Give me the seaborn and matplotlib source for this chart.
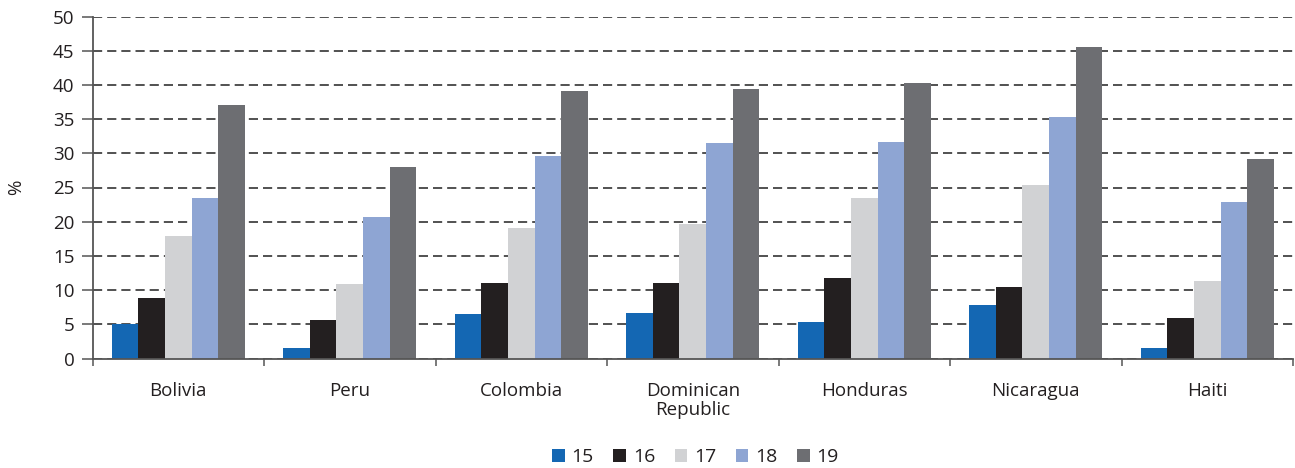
import numpy as np
import pandas as pd
import matplotlib
matplotlib.use("Agg")
import matplotlib.pyplot as plt
import seaborn as sns
from matplotlib.ticker import FixedLocator

countries = ["Bolivia", "Peru", "Colombia", "Dominican\nRepublic", "Honduras", "Nicaragua", "Haiti"]
ages = ["15", "16", "17", "18", "19"]
v15 = [5.0, 1.5, 6.5, 6.6, 5.3, 7.8, 1.5]
v16 = [8.8, 5.7, 11.0, 11.0, 11.7, 10.4, 5.9]
v17 = [17.9, 10.9, 19.1, 19.6, 23.5, 25.4, 11.3]
v18 = [23.5, 20.7, 29.6, 31.5, 31.7, 35.3, 22.9]
v19 = [37.1, 28.0, 39.1, 39.4, 40.3, 45.6, 29.2]
yticks = [0, 5, 10, 15, 20, 25, 30, 35, 40, 45, 50]
colors = ["#1467b3", "#231f20", "#d1d2d4", "#8ea5d3", "#6d6e72"]

series = [v15, v16, v17, v18, v19]
rows = []
for age, vals in zip(ages, series):
    for c, v in zip(countries, vals):
        rows.append({"country": c, "age": age, "value": v})
df = pd.DataFrame(rows)

sns.set_theme(style="white")
plt.rcParams["font.family"] = ["Open Sans", "DejaVu Sans"]

fig = plt.figure(figsize=(12.95, 4.68), dpi=100)
ax = fig.add_axes([92.5/1295, 1-358.5/468, (1293-92.5)/1295, (358.5-16.5)/468])

sns.barplot(data=df, x="country", y="value", hue="age", order=countries,
            hue_order=ages, palette=colors, width=0.775, gap=0,
            saturation=1, edgecolor="none", linewidth=0, ax=ax, legend=True)

ax.set_ylim(0, 50)
ax.set_xlim(-0.5, 6.5)
ax.set_yticks(yticks)
ax.set_yticklabels([str(t) for t in yticks], fontsize=13.5, color="#231f20")
ax.yaxis.grid(True, linestyle=(0, (5.5, 3)), color="#333333", linewidth=1.2)
ax.set_axisbelow(True)
for s in ["top", "right"]:
    ax.spines[s].set_visible(False)
for s in ["left", "bottom"]:
    ax.spines[s].set_color("#555555")
    ax.spines[s].set_linewidth(1.3)
ax.tick_params(axis="y", length=8, width=1.1, color="#555555", pad=5, left=True)
ax.tick_params(axis="x", which="major", length=0, pad=17, labelsize=13.5, labelcolor="#231f20")
ax.xaxis.set_minor_locator(FixedLocator(np.arange(-0.5, 7.0, 1.0)))
ax.tick_params(axis="x", which="minor", length=5, width=1.1, color="#555555", bottom=True)
for lab in ax.get_xticklabels():
    lab.set_linespacing(1.05)
ax.set_xlabel("")
ax.set_ylabel("%", fontsize=13.5, color="#231f20", labelpad=20)

handles, labels = ax.get_legend_handles_labels()
ax.legend_.remove()
fig.legend(handles, labels, loc="center", bbox_to_anchor=(0.537, 1-457/468),
           ncol=5, frameon=False, fontsize=14, handlelength=0.65, handleheight=0.65,
           handletextpad=0.35, columnspacing=1.0, labelcolor="#231f20")

fig.savefig("out.png", dpi=100)
